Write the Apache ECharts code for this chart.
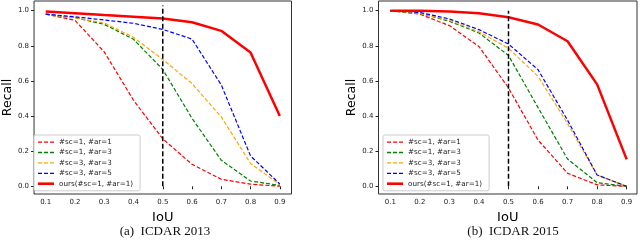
<!DOCTYPE html>
<html><head><meta charset="utf-8">
<script src="https://cdn.jsdelivr.net/npm/echarts@6/dist/echarts.min.js"></script>
<style>html,body{margin:0;padding:0;background:#fff}#c{width:640px;height:243px}</style>
</head><body><div id="c"></div>
<script>
const iou = [0.1,0.2,0.3,0.4,0.5,0.6,0.7,0.8,0.9];
const names = ['#sc=1, #ar=1','#sc=1, #ar=3','#sc=3, #ar=3','#sc=3, #ar=5','ours(#sc=1, #ar=1)'];
const xTicks = [0.1,0.2,0.3,0.4,0.5,0.6,0.7,0.8,0.9];
const yTicks = [0,0.2,0.4,0.6,0.8,1.0];
// ICDAR 2013
const a_sc1ar1 = [0.98,0.945,0.765,0.49,0.27,0.125,0.04,0.012,0.0];
const a_sc1ar3 = [0.98,0.96,0.922,0.837,0.665,0.387,0.148,0.03,0.005];
const a_sc3ar3 = [0.98,0.96,0.93,0.848,0.722,0.585,0.395,0.13,0.01];
const a_sc3ar5 = [0.98,0.965,0.947,0.928,0.893,0.838,0.577,0.173,0.013];
const a_ours   = [0.995,0.985,0.975,0.966,0.955,0.934,0.885,0.762,0.4];
// ICDAR 2015
const b_sc1ar1 = [1.0,0.98,0.915,0.796,0.56,0.263,0.074,0.008,0.0];
const b_sc1ar3 = [1.0,0.985,0.94,0.873,0.745,0.448,0.155,0.02,0.0];
const b_sc3ar3 = [1.0,0.985,0.945,0.88,0.786,0.626,0.357,0.064,0.0];
const b_sc3ar5 = [1.0,0.99,0.953,0.892,0.81,0.664,0.376,0.064,0.0];
const b_ours   = [1.0,1.0,0.995,0.985,0.962,0.921,0.826,0.58,0.153];
const vlineA = [[0.5,0],[0.5,1.03]];
const vlineB = [[0.5,0],[0.5,1.0]];
const captions = ['(a)  ICDAR 2013','(b)  ICDAR 2015'];

const colors = ['#ff0000','#008000','#ffa500','#0000ff','#ff0000'];
const dashIcon = 'path://M0,0h4v1.3h-4zM6,0h4v1.3h-4zM12,0h4v1.3h-4z';
const solidIcon = 'path://M0,0h16v2.6h-16z';
const pair = v => iou.map((x,i)=>[x,v[i]]);
const chart = echarts.init(document.getElementById('c'));
const tickFont = {fontFamily:'DejaVu Sans',fontSize:7,color:'#222'};
function xAx(gi){return {type:'value',gridIndex:gi,min:0.06,max:gi===0?0.94:0.935,
  axisLine:{show:false},splitLine:{show:false},
  axisTick:{show:true,inside:false,length:3,lineStyle:{color:'#222'},customValues:xTicks},
  axisLabel:Object.assign({customValues:xTicks,margin:5,formatter:v=>v.toFixed(1)},tickFont),
  name:'IoU',nameLocation:'middle',nameGap:17,
  nameTextStyle:{fontFamily:'DejaVu Sans',fontSize:13,color:'#000'}};}
function yAx(gi){return {type:'value',gridIndex:gi,min:-0.044,max:1.055,
  axisLine:{show:false},splitLine:{show:false},
  axisTick:{show:true,inside:false,length:3,lineStyle:{color:'#222'},customValues:yTicks},
  axisLabel:Object.assign({customValues:yTicks,margin:5,formatter:v=>v.toFixed(1)},tickFont),
  name:'Recall',nameLocation:'middle',nameGap:gi===0?19:20,nameRotate:90,
  nameTextStyle:{fontFamily:'DejaVu Sans',fontSize:12.5,color:'#000'}};}
const sets = [[a_sc1ar1,a_sc1ar3,a_sc3ar3,a_sc3ar5,a_ours],[b_sc1ar1,b_sc1ar3,b_sc3ar3,b_sc3ar5,b_ours]];
const series = [];
sets.forEach((s,gi)=>{
  s.forEach((v,k)=>{
    series.push({name:names[k],type:'line',xAxisIndex:gi,yAxisIndex:gi,data:pair(v),
      symbol:'none',animation:false,z:k===4?5:3,
      lineStyle:{color:colors[k],width:k===4?2.5:1.2,type:k===4?'solid':[4,2]},
      itemStyle:{color:colors[k]}});
  });
  series.push({type:'line',xAxisIndex:gi,yAxisIndex:gi,data:gi===0?vlineA:vlineB,symbol:'none',
    animation:false,z:6,lineStyle:{color:'#000',width:1.5,type:[5,2.5]}});
});
function leg(left){return {left:left,top:135,orient:'vertical',itemWidth:16,itemHeight:2.6,itemGap:3.2,
  symbolKeepAspect:true,
  padding:[3.5,7,3.5,4],backgroundColor:'#fff',borderColor:'#ccc',borderWidth:1,borderRadius:2,
  data:names.map((n,k)=>({name:n,icon:k===4?solidIcon:dashIcon,itemStyle:{color:colors[k]}})),
  itemStyle:{borderWidth:0},lineStyle:{width:0,opacity:0},
  textStyle:{fontFamily:'DejaVu Sans',fontSize:7.2,color:'#222',lineHeight:7.2,padding:[0,0,0,0]},
  selectedMode:false};}
chart.setOption({
  animation:false,
  grid:[{left:31,top:1,width:260.5,height:193,show:true,borderColor:'#333',borderWidth:1,backgroundColor:'#fff'},
        {left:378.5,top:1,width:258.5,height:193,show:true,borderColor:'#333',borderWidth:1,backgroundColor:'#fff'}],
  xAxis:[xAx(0),xAx(1)],yAxis:[yAx(0),yAx(1)],
  legend:[leg(34),leg(383)],
  title:[{text:captions[0],left:160,top:220,textAlign:'center',textStyle:{fontFamily:'Liberation Serif',fontSize:13,fontWeight:'normal',color:'#111'}},
         {text:captions[1],left:508,top:220,textAlign:'center',textStyle:{fontFamily:'Liberation Serif',fontSize:13,fontWeight:'normal',color:'#111'}}],
  series:series
});
</script></body></html>
